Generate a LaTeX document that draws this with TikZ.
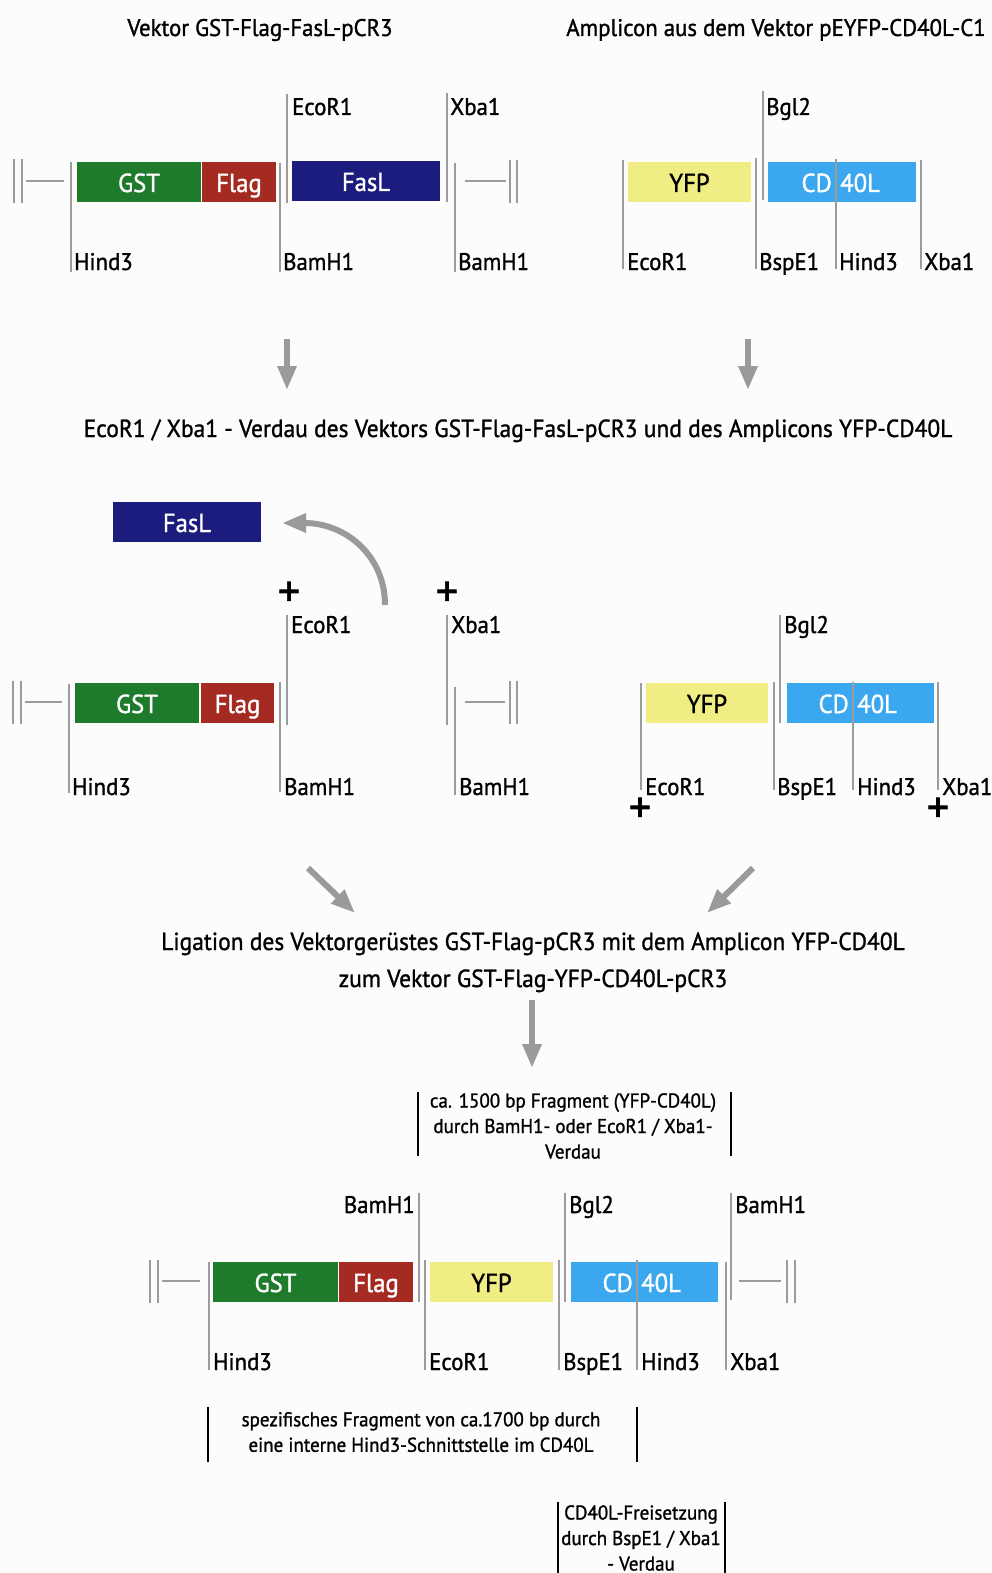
\documentclass[tikz,border=0pt]{standalone}
\usepackage{fontspec}
\setmainfont{PT Sans}[FakeStretch=0.95,FakeBold=1.2]
\newfontfamily\plusfont{PT Sans}[FakeBold=1.6]
\usetikzlibrary{arrows.meta}
\definecolor{gstgreen}{HTML}{1E7B2C}
\definecolor{flagred}{HTML}{A52A22}
\definecolor{faslnavy}{HTML}{1C1C7E}
\definecolor{yfpyellow}{HTML}{EFED84}
\definecolor{cdblue}{HTML}{3BA7EE}
\definecolor{bargray}{HTML}{9C9C9C}
\definecolor{arrgray}{HTML}{9A9A9A}
\definecolor{bg}{HTML}{FCFCFC}
\tikzset{
  gbar/.style={draw=bargray, line width=2.8pt},
  kbar/.style={draw=black, line width=2.6pt},
  lab/.style={anchor=base west, inner sep=0pt, font=\fontsize{24}{28}\selectfont},
  labr/.style={anchor=base east, inner sep=0pt, font=\fontsize{24}{28}\selectfont},
  title/.style={anchor=base, inner sep=0pt, font=\fontsize{24}{28}\selectfont},
  wtitle/.style={anchor=base, inner sep=0pt, font=\fontsize{24.7}{28}\selectfont},
  seg/.style={inner sep=0pt, minimum height=40pt, text height=22pt, text depth=2pt, font=\fontsize{26}{28}\selectfont},
  segtxt/.style={inner sep=0pt, font=\fontsize{26}{28}\selectfont},
  note/.style={inner sep=0pt, align=center, font=\fontsize{20}{25.5}\selectfont},
  plus/.style={inner sep=0pt, font=\plusfont\fontsize{44}{44}\selectfont},
  arr/.style={draw=arrgray, line width=6pt, -{Triangle[width=18pt,length=24pt]}},
}
\begin{document}
\begin{tikzpicture}[x=1pt,y=-1pt]
\useasboundingbox (0,0) rectangle (992,1573);
\fill[bg] (0,0) rectangle (992,1573);

% ---------------- Titles
\node[title] (t1) at (260,36) {Vektor GST-Flag-FasL-pCR3};
\node[title] (t2) at (776,36) {Amplicon aus dem Vektor pEYFP-CD40L-C1};

% ---------------- Section 1 left
\draw[gbar] (14,159) -- (14,203);
\draw[gbar] (22,159) -- (22,203);
\draw[gbar] (26,181) -- (64,181);
\draw[gbar] (71,162) -- (71,272);
\node[seg, fill=gstgreen, text=white, minimum width=124pt] (gst1) at (139,182) {GST};
\node[seg, fill=flagred, text=white, minimum width=74pt] (flag1) at (239,182) {Flag};
\draw[gbar] (280,163) -- (280,272);
\draw[gbar] (287,94) -- (287,203);
\node[seg, fill=faslnavy, text=white, minimum width=148pt] (fasl1) at (366,181) {FasL};
\draw[gbar] (447,93) -- (447,202);
\draw[gbar] (455,163) -- (455,272);
\draw[gbar] (465,181) -- (506,181);
\draw[gbar] (510,160) -- (510,203);
\draw[gbar] (517,160) -- (517,203);
\node[lab] (l1a) at (74,270) {Hind3};
\node[lab] (l1b) at (283,270) {BamH1};
\node[lab] (l1c) at (458,270) {BamH1};
\node[lab] (l1d) at (292,115) {EcoR1};
\node[lab] (l1e) at (450,115) {Xba1};

% ---------------- Section 1 right
\draw[gbar] (623,160) -- (623,269);
\node[seg, fill=yfpyellow, text=black, minimum width=123pt] (yfp1) at (689.5,182) {YFP};
\draw[gbar] (756,158) -- (756,269);
\draw[gbar] (763,91) -- (763,200);
\node[seg, fill=cdblue, minimum width=148pt] (cd1) at (842,182) {};
\node[segtxt, text=white, anchor=base east] (cd1a) at (832,192) {CD};
\node[segtxt, text=white, anchor=base west] (cd1b) at (840,192) {40L};
\draw[gbar] (836,159) -- (836,269);
\draw[gbar] (921,160) -- (921,269);
\node[lab] (r1a) at (627,270) {EcoR1};
\node[lab] (r1b) at (759,270) {BspE1};
\node[lab] (r1c) at (839,270) {Hind3};
\node[lab] (r1d) at (924,270) {Xba1};
\node[lab] (r1e) at (766,115) {Bgl2};

% ---------------- arrows down
\coordinate (a1s) at (287,339); \coordinate (a1e) at (287,390);
\coordinate (a2s) at (748,339); \coordinate (a2e) at (748,390);
\draw[arr] (a1s) -- (a1e);
\draw[arr] (a2s) -- (a2e);

\node[wtitle] (mid) at (518,437) {EcoR1 / Xba1 - Verdau des Vektors GST-Flag-FasL-pCR3 und des Amplicons YFP-CD40L};

% ---------------- Section 3 left
\node[seg, fill=faslnavy, text=white, minimum width=148pt] (fasl2) at (187,522) {FasL};
\coordinate (cs) at (385,605);
\coordinate (ce) at (282,523);
\draw[arr] (cs) .. controls (385,555) and (345,523) .. (ce);
\node[plus] (p1) at (289,594) {+};
\node[plus] (p2) at (447,594) {+};
\draw[gbar] (13,681) -- (13,724);
\draw[gbar] (21,681) -- (21,724);
\draw[gbar] (25,702) -- (62,702);
\draw[gbar] (69,684) -- (69,793);
\node[seg, fill=gstgreen, text=white, minimum width=124pt] (gst2) at (137,703) {GST};
\node[seg, fill=flagred, text=white, minimum width=73pt] (flag2) at (237.5,703) {Flag};
\draw[gbar] (280,682) -- (280,792);
\draw[gbar] (287,615) -- (287,725);
\draw[gbar] (447,615) -- (447,725);
\draw[gbar] (455,687) -- (455,795);
\draw[gbar] (465,702) -- (505,702);
\draw[gbar] (510,681) -- (510,724);
\draw[gbar] (517,681) -- (517,724);
\node[lab] (l3a) at (72,795) {Hind3};
\node[lab] (l3b) at (284,795) {BamH1};
\node[lab] (l3c) at (459,795) {BamH1};
\node[lab] (l3d) at (291,633) {EcoR1};
\node[lab] (l3e) at (451,633) {Xba1};

% ---------------- Section 3 right
\draw[gbar] (641,683) -- (641,790);
\node[seg, fill=yfpyellow, text=black, minimum width=122pt] (yfp2) at (707,703) {YFP};
\draw[gbar] (774,682) -- (774,790);
\draw[gbar] (780,615) -- (780,723);
\node[seg, fill=cdblue, minimum width=147pt] (cd2) at (860.5,703) {};
\node[segtxt, text=white, anchor=base east] (cd2a) at (849,713) {CD};
\node[segtxt, text=white, anchor=base west] (cd2b) at (857,713) {40L};
\draw[gbar] (853,682) -- (853,790);
\draw[gbar] (938,682) -- (938,790);
\node[lab] (r3a) at (645,795) {EcoR1};
\node[lab] (r3b) at (777,795) {BspE1};
\node[lab] (r3c) at (857,795) {Hind3};
\node[lab] (r3d) at (942,795) {Xba1};
\node[lab] (r3e) at (784,633) {Bgl2};
\node[plus] (p3) at (640,810) {+};
\node[plus] (p4) at (938,810) {+};

% ---------------- Ligation
\coordinate (a3s) at (308,868); \coordinate (a3e) at (355,913);
\coordinate (a4s) at (753,868); \coordinate (a4e) at (707,913);
\draw[arr] (a3s) -- (a3e);
\draw[arr] (a4s) -- (a4e);
\node[wtitle] (lig1) at (533,950) {Ligation des Vektorgerüstes GST-Flag-pCR3 mit dem Amplicon YFP-CD40L};
\node[wtitle] (lig2) at (533,987) {zum Vektor GST-Flag-YFP-CD40L-pCR3};
\coordinate (a5s) at (532,1000); \coordinate (a5e) at (532,1068);
\draw[arr] (a5s) -- (a5e);

% ---------------- Box 1
\draw[kbar] (418,1092) -- (418,1156);
\draw[kbar] (731,1092) -- (731,1156);
\node[note] (n1) at (573,1126) {ca. 1500 bp Fragment (YFP-CD40L)\\durch BamH1- oder EcoR1 / Xba1-\\Verdau};

% ---------------- Bottom construct
\draw[gbar] (150,1260) -- (150,1303);
\draw[gbar] (158,1260) -- (158,1303);
\draw[gbar] (162,1281) -- (200,1281);
\draw[gbar] (209,1262) -- (209,1370);
\node[seg, fill=gstgreen, text=white, minimum width=125pt] (gst3) at (275.5,1282) {GST};
\node[seg, fill=flagred, text=white, minimum width=74pt] (flag3) at (376,1282) {Flag};
\draw[gbar] (419,1193) -- (419,1302);
\draw[gbar] (425,1260) -- (425,1370);
\node[seg, fill=yfpyellow, text=black, minimum width=123pt] (yfp3) at (491.5,1282) {YFP};
\draw[gbar] (559,1260) -- (559,1370);
\draw[gbar] (565,1193) -- (565,1302);
\node[seg, fill=cdblue, minimum width=147pt] (cd3) at (644.5,1282) {};
\node[segtxt, text=white, anchor=base east] (cd3a) at (633,1292) {CD};
\node[segtxt, text=white, anchor=base west] (cd3b) at (641,1292) {40L};
\draw[gbar] (637,1260) -- (637,1370);
\draw[gbar] (726,1262) -- (726,1370);
\draw[gbar] (731,1193) -- (731,1300);
\draw[gbar] (739,1281) -- (781,1281);
\draw[gbar] (787,1260) -- (787,1303);
\draw[gbar] (795,1260) -- (795,1303);
\node[lab] (b1) at (213,1370) {Hind3};
\node[labr] (b2) at (415,1213) {BamH1};
\node[lab] (b3) at (429,1370) {EcoR1};
\node[lab] (b4) at (563,1370) {BspE1};
\node[lab] (b5) at (569,1213) {Bgl2};
\node[lab] (b6) at (641,1370) {Hind3};
\node[lab] (b7) at (730,1370) {Xba1};
\node[lab] (b8) at (735,1213) {BamH1};

% ---------------- Box 2
\draw[kbar] (208,1407) -- (208,1462);
\draw[kbar] (637,1407) -- (637,1462);
\node[note] (n2) at (421,1432) {spezifisches Fragment von ca.1700 bp durch\\eine interne Hind3-Schnittstelle im CD40L};

% ---------------- Box 3
\draw[kbar] (558,1502) -- (558,1573);
\draw[kbar] (725,1502) -- (725,1573);
\node[note] (n3) at (641,1538) {CD40L-Freisetzung\\durch BspE1 / Xba1\\- Verdau};
\end{tikzpicture}
\end{document}
